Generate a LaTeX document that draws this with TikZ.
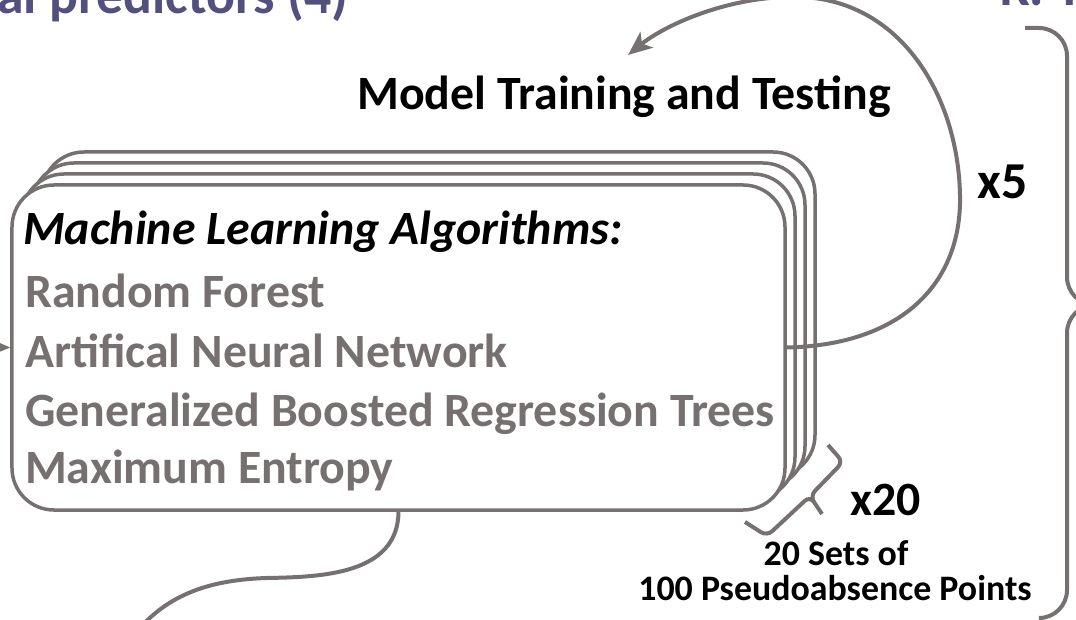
\documentclass[tikz,border=0pt]{standalone}
\usepackage{fontspec}
\setmainfont{Carlito}
\usetikzlibrary{arrows.meta, positioning}
\definecolor{linegray}{RGB}{118,113,112}
\definecolor{titlepurple}{RGB}{82,81,125}

\begin{document}
\begin{tikzpicture}[x=1bp, y=-1bp,
  algbox/.style={draw=linegray, line width=3.5bp, fill=white, rounded corners=42bp,
    minimum width=773bp, minimum height=325bp, inner sep=0pt},
  grayline/.style={draw=linegray, line width=4bp},
  tip/.style={-{Stealth[length=24bp, width=20bp, inset=6bp]}},
  algtext/.style={anchor=base west, inner sep=0pt, text=linegray,
    font=\fontsize{48}{54}\selectfont\bfseries},
  bigtext/.style={anchor=base, inner sep=0pt, font=\fontsize{48}{54}\selectfont\bfseries},
  smalltext/.style={anchor=base, inner sep=0pt, font=\fontsize{36}{40}\selectfont\bfseries},
  titletext/.style={anchor=base west, inner sep=0pt, text=titlepurple,
    font=\fontsize{54}{60}\selectfont\bfseries}]
\useasboundingbox (0,0) rectangle (1076,620);
\clip (0,0) rectangle (1076,620);

% clipped slide titles
\node[titletext] (title) at (-3,14) {al predictors (4)};
\node[titletext] (corner) at (1000,6) {K. Th};

% stack of algorithm boxes, back to front
\foreach \k in {3,2,1}
  \node[algbox] (box\k) at (398.5+10*\k, 347.5-11*\k) {};
\node[algbox] (mlbox) at (398.5,347.5) {};

\node[algtext, text=black, font=\fontsize{48}{54}\selectfont\bfseries\itshape] (head) at (23,245) {Machine Learning Algorithms:};
\node[algtext] (rf) at (25,308) {Random Forest};
\node[algtext] (ann) at (25,367) {Artifical Neural Network};
\node[algtext] (gbm) at (25,426) {Generalized Boosted Regression Trees};
\node[algtext] (maxent) at (25,483) {Maximum Entropy};

\node[bigtext] (train) at (624,110) {Model Training and Testing};
\node[bigtext, font=\fontsize{52}{58}\selectfont\bfseries] (five) at (1003,199) {x5};
\node[bigtext] (twenty) at (886,515) {x20};
\node[smalltext] (sets) at (836,565) {20 Sets of};
\node[smalltext] (points) at (835,600) {100 Pseudoabsence Points};

% connectors
\coordinate (inleft) at (-40,347);
\coordinate (looptip) at (628,55);
\coordinate (outbot) at (130,640);
\draw[grayline, tip] (inleft) -- (mlbox.west);
\draw[grayline, tip] (mlbox.east) .. controls (900,345) and (962,285) .. (960,195)
  .. controls (958,95) and (900,0) .. (800,-3) .. controls (730,-5) and (665,25) .. (looptip);
\draw[grayline] (mlbox.south) .. controls (398,575) and (320,577) .. (267,578)
  .. controls (200,580) and (160,600) .. (outbot);

% braces
\draw[grayline, rounded corners=7bp] (828,445) -- (843,462) -- (810,496) -- (822,514)
  (822,514) -- (810,496) -- (767,536) -- (745,522);
\draw[grayline, rounded corners=28bp] (1025,28) -- (1067,28) -- (1067,305) -- (1100,305)
  (1100,305) -- (1067,305) -- (1067,618) -- (1040,618);
\end{tikzpicture}
\end{document}
